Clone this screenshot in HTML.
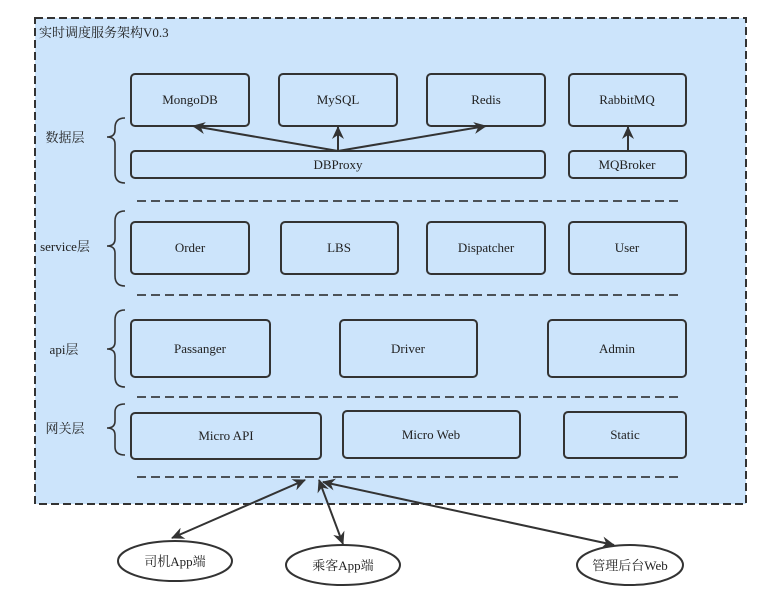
<!DOCTYPE html>
<html><head><meta charset="utf-8"><style>body{margin:0;background:#fff}svg{display:block}text{font-family:"Liberation Serif","Noto Serif CJK SC",serif;font-size:13px;fill:#222}</style></head><body>
<svg width="784" height="598" viewBox="0 0 784 598">
<defs><marker id="a" markerWidth="14" markerHeight="12" refX="12" refY="6" orient="auto-start-reverse" markerUnits="userSpaceOnUse"><path d="M0,0 L13,6 L0,12 L4,6 z" fill="#333"/></marker></defs>
<rect x="35" y="18" width="711" height="486" fill="#cce4fb" stroke="#333" stroke-width="2" stroke-dasharray="8,4"/>
<text x="39" y="37" style="font-size:13px">实时调度服务架构V0.3</text>
<g fill="none" stroke="#333" stroke-width="2">
<rect x="131" y="74" width="118" height="52" rx="4"/><rect x="279" y="74" width="118" height="52" rx="4"/><rect x="427" y="74" width="118" height="52" rx="4"/><rect x="569" y="74" width="117" height="52" rx="4"/>
<rect x="131" y="151" width="414" height="27" rx="4"/><rect x="569" y="151" width="117" height="27" rx="4"/>
<rect x="131" y="222" width="118" height="52" rx="4"/><rect x="281" y="222" width="117" height="52" rx="4"/><rect x="427" y="222" width="118" height="52" rx="4"/><rect x="569" y="222" width="117" height="52" rx="4"/>
<rect x="131" y="320" width="139" height="57" rx="4"/><rect x="340" y="320" width="137" height="57" rx="4"/><rect x="548" y="320" width="138" height="57" rx="4"/>
<rect x="131" y="413" width="190" height="46" rx="4"/><rect x="343" y="411" width="177" height="47" rx="4"/><rect x="564" y="412" width="122" height="46" rx="4"/>
</g>
<g stroke="#222" stroke-width="1.5" stroke-dasharray="9,5" fill="none">
<line x1="137" y1="201" x2="680" y2="201"/><line x1="137" y1="295" x2="680" y2="295"/><line x1="137" y1="397" x2="680" y2="397"/><line x1="137" y1="477" x2="680" y2="477"/>
</g>
<g fill="none" stroke="#333" stroke-width="1.6">
<path d="M125,118 Q115,118 115,128 L115,130 Q115,137 107,137 Q115,137 115,144 L115,173 Q115,183 125,183"/>
<path d="M125,211 Q115,211 115,221 L115,239 Q115,246 107,246 Q115,246 115,253 L115,276 Q115,286 125,286"/>
<path d="M125,310 Q115,310 115,320 L115,342 Q115,349 107,349 Q115,349 115,356 L115,377 Q115,387 125,387"/>
<path d="M125,404 Q115,404 115,412 L115,421 Q115,428 107,428 Q115,428 115,435 L115,447 Q115,455 125,455"/>
</g>
<g stroke="#333" stroke-width="2" fill="none">
<line x1="338" y1="151" x2="193" y2="126" marker-end="url(#a)"/>
<line x1="338" y1="151" x2="338" y2="127" marker-end="url(#a)"/>
<line x1="338" y1="151" x2="486" y2="126" marker-end="url(#a)"/>
<line x1="628" y1="151" x2="628" y2="127" marker-end="url(#a)"/>
<line x1="305" y1="480" x2="172" y2="538" marker-start="url(#a)" marker-end="url(#a)"/>
<line x1="319" y1="480" x2="343" y2="544" marker-start="url(#a)" marker-end="url(#a)"/>
<line x1="323" y1="482" x2="614" y2="545" marker-start="url(#a)" marker-end="url(#a)"/>
</g>
<g fill="#fff" stroke="#333" stroke-width="2">
<ellipse cx="175" cy="561" rx="57" ry="20"/><ellipse cx="343" cy="565" rx="57" ry="20"/><ellipse cx="630" cy="565" rx="53" ry="20"/>
</g>
<g text-anchor="middle">
<text x="190" y="104">MongoDB</text><text x="338" y="104">MySQL</text><text x="486" y="104">Redis</text><text x="627" y="104">RabbitMQ</text>
<text x="338" y="169">DBProxy</text><text x="627" y="169">MQBroker</text>
<text x="190" y="252">Order</text><text x="339" y="252">LBS</text><text x="486" y="252">Dispatcher</text><text x="627" y="252">User</text>
<text x="200" y="353">Passanger</text><text x="408" y="353">Driver</text><text x="617" y="353">Admin</text>
<text x="226" y="440">Micro API</text><text x="431" y="439">Micro Web</text><text x="625" y="439">Static</text>
<text x="65" y="142">数据层</text><text x="65" y="251">service层</text><text x="64" y="354">api层</text><text x="65" y="433">网关层</text>
<text x="175" y="566">司机App端</text><text x="343" y="570">乘客App端</text><text x="630" y="570">管理后台Web</text>
</g>
</svg>
</body></html>
